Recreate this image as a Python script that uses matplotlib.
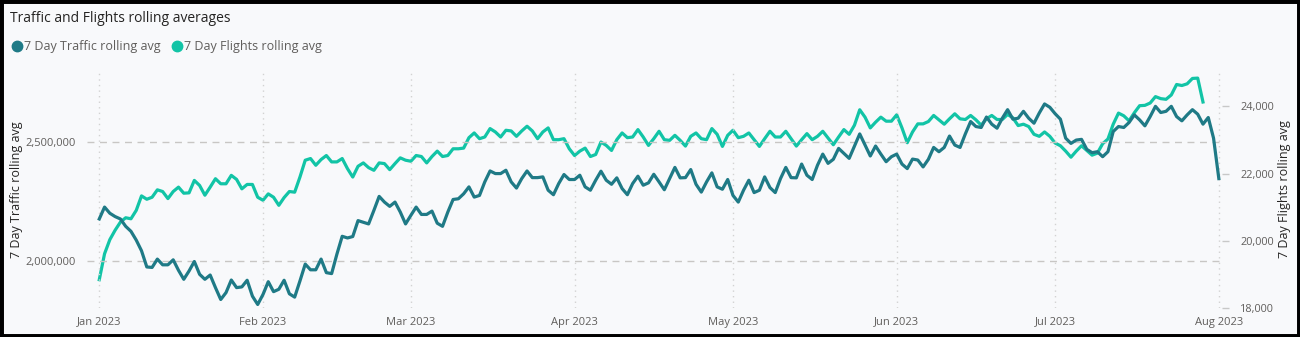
import pandas as pd
import matplotlib.pyplot as plt
import matplotlib.dates as mdates
from matplotlib.lines import Line2D
from matplotlib.patches import Rectangle
from matplotlib.ticker import FuncFormatter

# 7 day rolling averages, daily from 1 Jan 2023
traffic = [
    2176, 2226, 2200, 2186, 2176, 2145, 2124, 2087, 2042, 1974, 1972, 2007, 1983, 1983,
    2004, 1960, 1922, 1957, 1997, 1943, 1922, 1940, 1887, 1837, 1866, 1919, 1887, 1890,
    1918, 1851, 1816, 1858, 1912, 1870, 1880, 1918, 1861, 1847, 1915, 1986, 1962, 1962,
    2007, 1950, 1946, 2028, 2103, 2096, 2102, 2169, 2162, 2155, 2212, 2271, 2247, 2229,
    2247, 2205, 2155, 2191, 2226, 2195, 2195, 2209, 2158, 2145, 2205, 2258, 2261, 2282,
    2311, 2268, 2275, 2332, 2378, 2367, 2367, 2381, 2332, 2306, 2346, 2378, 2350, 2350,
    2353, 2297, 2278, 2325, 2363, 2342, 2342, 2360, 2311, 2297, 2339, 2377, 2339, 2322,
    2349, 2304, 2278, 2325, 2356, 2318, 2328, 2364, 2332, 2299, 2346, 2393, 2349, 2350,
    2384, 2322, 2289, 2332, 2370, 2311, 2301, 2342, 2275, 2247, 2297, 2339, 2287, 2297,
    2353, 2308, 2287, 2346, 2393, 2350, 2349, 2407, 2360, 2342, 2402, 2449, 2410, 2427,
    2473, 2452, 2431, 2483, 2534, 2487, 2441, 2483, 2449, 2417, 2438, 2449, 2407, 2388,
    2428, 2424, 2395, 2427, 2477, 2459, 2477, 2525, 2487, 2477, 2534, 2586, 2565, 2561,
    2605, 2575, 2558, 2600, 2636, 2596, 2600, 2629, 2600, 2579, 2622, 2660, 2646, 2619,
    2596, 2516, 2494, 2508, 2511, 2469, 2455, 2459, 2438, 2459, 2544, 2565, 2561, 2582,
    2614, 2593, 2568, 2607, 2650, 2624, 2629, 2650, 2607, 2589, 2614, 2636, 2617, 2575,
    2603, 2516, 2346,
]
traffic = [v * 1000 for v in traffic]

flights = [
    18850, 19620, 20040, 20320, 20560, 20690, 20660, 20910, 21340, 21240, 21300, 21520,
    21470, 21260, 21470, 21600, 21420, 21430, 21800, 21650, 21360, 21600, 21850, 21700,
    21700, 21950, 21830, 21550, 21680, 21680, 21300, 21210, 21400, 21300, 21060, 21290,
    21470, 21450, 21900, 22400, 22450, 22250, 22420, 22540, 22350, 22350, 22450, 22150,
    21900, 22220, 22320, 22180, 22100, 22320, 22300, 22120, 22300, 22470, 22400, 22370,
    22540, 22510, 22320, 22510, 22670, 22510, 22540, 22740, 22740, 22760, 23070, 23210,
    23040, 23090, 23340, 23240, 23090, 23290, 23270, 23110, 23270, 23410, 23270, 23040,
    23240, 23360, 23010, 23010, 23040, 22740, 22540, 22670, 22760, 22510, 22570, 22940,
    22840, 22690, 23010, 23210, 23070, 23090, 23310, 23090, 22840, 23040, 23260, 23010,
    22990, 23140, 22990, 22820, 23110, 23210, 23040, 23010, 23340, 23170, 22810, 23140,
    23290, 23070, 23110, 23210, 23010, 22810, 23040, 23260, 23090, 23090, 23260, 23040,
    22820, 23010, 23190, 23010, 23110, 23260, 23060, 22860, 23090, 23310, 23170, 23440,
    23900, 23680, 23360, 23530, 23680, 23560, 23560, 23750, 23360, 22920, 23240, 23480,
    23480, 23550, 23730, 23600, 23470, 23630, 23780, 23630, 23610, 23730, 23600, 23440,
    23630, 23730, 23610, 23610, 23760, 23660, 23430, 23470, 23400, 23170, 23110, 23240,
    23110, 22910, 22830, 22670, 22490, 22670, 22830, 22690, 22550, 22610, 22890, 23030,
    23470, 23800, 23720, 23570, 23810, 24020, 24030, 24100, 24290, 24230, 24210, 24340,
    24650, 24620, 24670, 24830, 24840, 24130,
]

traffic_dates = pd.date_range("2023-01-01", periods=len(traffic), freq="D")
flight_dates = pd.date_range("2023-01-01", periods=len(flights), freq="D")

c_traffic = "#1F7A86"
c_flights = "#12C4A6"
bg = "#F8F9FB"
txt = "#605E5C"

plt.rcParams["font.family"] = ["Open Sans", "DejaVu Sans"]

fig = plt.figure(figsize=(13, 3.37), dpi=100)
fig.set_facecolor(bg)
ax = fig.add_axes([0.0669, 0.0852, 0.8731, 0.705])
ax.set_facecolor(bg)
ax2 = ax.twinx()

ax.plot(traffic_dates, traffic, color=c_traffic, lw=2.3, zorder=3)
ax2.plot(flight_dates, flights, color=c_flights, lw=2.3, zorder=2)

ax.set_zorder(2)
ax.patch.set_visible(False)

start = pd.Timestamp("2023-01-01")
ax.set_xlim(start - pd.Timedelta(days=2.33), start + pd.Timedelta(days=212.6))
ax.set_ylim(1_800_000, 2_800_000)
ax2.set_ylim(18000, 25060)

ax.set_yticks([2_000_000, 2_500_000])
ax.yaxis.set_major_formatter(FuncFormatter(lambda v, _: f"{v:,.0f}"))
ax2.set_yticks([18000, 20000, 22000, 24000])
ax2.yaxis.set_major_formatter(FuncFormatter(lambda v, _: f"{v:,.0f}"))

ax.xaxis.set_major_locator(mdates.MonthLocator())
ax.xaxis.set_major_formatter(mdates.DateFormatter("%b %Y"))

for a in (ax, ax2):
    for s in a.spines.values():
        s.set_visible(False)

ax.tick_params(axis="x", length=0, pad=6, labelsize=8, labelcolor=txt)
ax.tick_params(axis="y", length=0, pad=8, labelsize=8, labelcolor=txt)
ax2.tick_params(axis="y", length=5, width=1, color="#C8C8C8", pad=8,
                labelsize=7.8, labelcolor=txt)

ax.grid(axis="y", color="#C8C6C4", linestyle=(0, (5, 4)), linewidth=1)
ax.grid(axis="x", color="#D2D2D2", linestyle=(0, (1, 3)), linewidth=1)

ax.set_ylabel("7 Day Traffic rolling avg", fontsize=9, color="#252423")
ax.yaxis.set_label_coords(-0.0564, 0.5)
ax2.set_ylabel("7 Day Flights rolling avg", fontsize=9, color="#252423")
ax2.yaxis.set_label_coords(1.0495, 0.5)

# title and legend
fig.text(0.008, 0.946, "Traffic and Flights rolling averages", fontsize=10,
         color="#252423", va="center", ha="left")
leg_y = 0.863
fig.add_artist(Line2D([0.0132], [leg_y], transform=fig.transFigure, marker="o",
                      markersize=7.5, color=c_traffic, linestyle="none"))
fig.text(0.0188, leg_y, "7 Day Traffic rolling avg", fontsize=9, color=txt,
         va="center", ha="left")
fig.add_artist(Line2D([0.1362], [leg_y], transform=fig.transFigure, marker="o",
                      markersize=7.5, color=c_flights, linestyle="none"))
fig.text(0.1418, leg_y, "7 Day Flights rolling avg", fontsize=9, color=txt,
         va="center", ha="left")

# black frame
fig.add_artist(Rectangle((0, 0), 1, 1, transform=fig.transFigure, fill=False,
                         edgecolor="black", linewidth=5))

fig.savefig("out.png", dpi=100, facecolor=bg)
